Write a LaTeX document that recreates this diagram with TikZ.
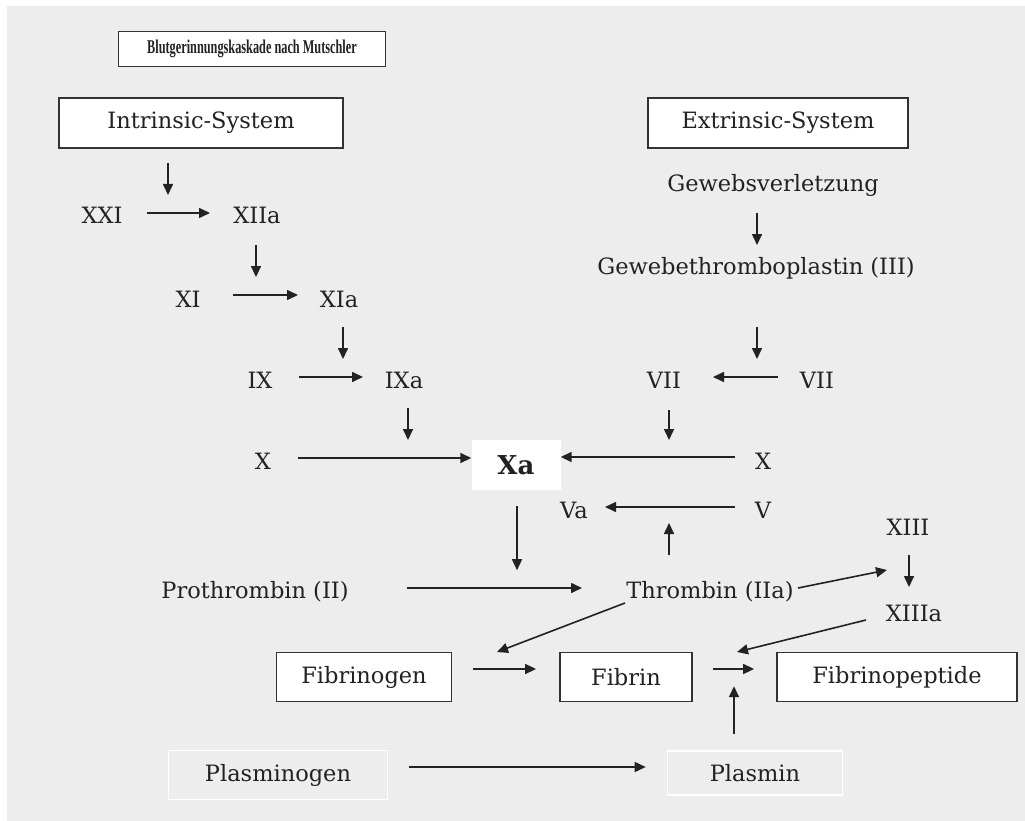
\documentclass[tikz,border=0pt]{standalone}
\usepackage{fontspec}
\setmainfont{DejaVu Serif}
\newfontfamily\titlefont{Liberation Serif}
\usetikzlibrary{arrows.meta,positioning,calc}
\definecolor{panel}{HTML}{EDEDED}
\definecolor{ink}{HTML}{222222}
\definecolor{frame}{HTML}{333333}
\tikzset{
  every node/.style={font=\fontsize{22.5}{26}\selectfont, text=ink},
  fac/.style ={inner sep=1pt},
  blk/.style ={draw=frame, fill=white, line width=1.8pt, minimum height=50pt, inner sep=0pt},
  pale/.style={draw=white, line width=1.6pt, minimum height=46pt, inner sep=0pt},
  ttl/.style ={blk, minimum width=267pt, minimum height=35pt,
               font=\titlefont\bfseries\fontsize{19.5}{22}\selectfont},
  ar/.style  ={-{Triangle[length=11pt,width=10pt]}, line width=1.6pt, draw=ink},
}

\begin{document}
\begin{tikzpicture}[x=1pt,y=1pt]

% ---------------- page ---------------------------------------------------------
\useasboundingbox (0,0) rectangle (1025,-821);
\fill[white] (0,0) rectangle (1025,-821);
\fill[panel] (7,-6) rectangle (1025,-821);

% ---------------- heading ------------------------------------------------------
\node[ttl] (title) at (252,-49) {\scalebox{0.63}[1]{Blutgerinnungskaskade nach Mutschler}};

\node[blk, minimum width=284pt] (intr) at (201,-123) {Intrinsic-System};
\node[blk, minimum width=260pt] (extr) at (778,-123) {Extrinsic-System};

% ---------------- intrinsic branch --------------------------------------------
\node[fac] (xxi)  at (102,-215) {XXI};
\node[fac] (xiia) at (257,-215) {XIIa};
\node[fac] (xi)   at (188,-299) {XI};
\node[fac] (xia)  at (339,-299) {XIa};
\node[fac] (ix)   at (260,-380) {IX};
\node[fac] (ixa)  at (404,-380) {IXa};
\node[fac] (xl)   at (263,-461) {X};

% ---------------- extrinsic branch --------------------------------------------
\node[fac] (gewv) at (773,-185) {Gewebsverletzung};
\node[fac] (gewt) at (756,-268) {Gewebethromboplastin (III)};
\node[fac] (viil) at (664,-380) {VII};
\node[fac] (viir) at (817,-380) {VII};
\node[fac] (xr)   at (763,-461) {X};

% ---------------- common path --------------------------------------------------
\node[fill=white, minimum width=89pt, minimum height=50pt, inner sep=0pt,
      font=\bfseries\fontsize{26}{29}\selectfont] (xa) at (516,-465) {Xa};
\node[fac] (va)   at (574,-510) {Va};
\node[fac] (v)    at (763,-510) {V};
\node[fac] (prot) at (255,-592) {Prothrombin (II)};
\node[fac] (thr)  at (710,-592) {Thrombin (IIa)};
\node[fac] (xiii) at (908,-527) {XIII};
\node[fac] (xiiia) at (914,-613) {XIIIa};

\node[blk, minimum width=175pt, minimum height=49pt] (fibg) at (364,-677) {Fibrinogen};
\node[blk, minimum width=132pt, minimum height=49pt] (fib)  at (626,-677) {Fibrin};
\node[blk, minimum width=240pt, minimum height=49pt] (fibp) at (897,-677) {Fibrinopeptide};

\node[pale, minimum width=219pt, minimum height=49pt] (plg) at (278,-775) {Plasminogen};
\node[pale, minimum width=175pt, minimum height=44pt] (pl)  at (755,-773) {Plasmin};

% ---------------- arrows -------------------------------------------------------
\draw[ar] ($(intr)+(-33,-40)$) -- ($(xxi)+(66,20)$);
\draw[ar] ($(xxi)+(45,2)$) -- ($(xiia)+(-47,2)$);
\draw[ar] ($(xiia)+(-1,-30)$) -- ($(xi)+(68,22)$);
\draw[ar] ($(xi)+(45,4)$) -- ($(xia)+(-41,4)$);
\draw[ar] ($(xia)+(4,-28)$) -- ($(ix)+(83,21)$);
\draw[ar] ($(ix)+(39,3)$) -- ($(ixa)+(-41,3)$);
\draw[ar] ($(ixa)+(4,-28)$) -- ($(ixa)+(4,-60)$);
\draw[ar] ($(xl)+(35,3)$) -- ($(xa.west)+(0,7)$);
\draw[ar] ($(xr)+(-28,4)$) -- ($(xa.east)+(0,8)$);

\draw[ar] ($(gewv)+(-16,-28)$) -- ($(gewt)+(1,23)$);
\draw[ar] ($(gewt)+(1,-59)$) -- ($(viil)+(93,21)$);
\draw[ar] ($(viir)+(-39,3)$) -- ($(viil)+(49,3)$);
\draw[ar] ($(viil)+(5,-30)$) -- ($(viil)+(5,-60)$);

\draw[ar] ($(v)+(-28,3)$) -- ($(va)+(31,3)$);
\draw[ar] ($(thr)+(-41,37)$) -- ($(thr)+(-41,69)$);
\draw[ar] ($(xa.south)+(1,-16)$) -- ($(xa.south)+(1,-80)$);
\draw[ar] ($(prot)+(152,4)$) -- ($(thr)+(-128,4)$);
\draw[ar] ($(thr)+(88,4)$) -- ($(xiii)+(-21,-43)$);
\draw[ar] ($(xiii)+(1,-28)$) -- ($(xiiia)+(-5,26)$);
\draw[ar] ($(xiiia)+(-48,-7)$) -- ($(fib)+(111,25)$);
\draw[ar] ($(thr)+(-85,-11)$) -- ($(fibg)+(133,25)$);

\draw[ar] ($(fibg.east)+(21,8)$) -- ($(fib.west)+(-23,8)$);
\draw[ar] ($(fib.east)+(20,8)$) -- ($(fibp.west)+(-22,8)$);
\draw[ar] ($(pl.north)+(-21,16)$) -- ($(pl.north)+(-21,64)$);
\draw[ar] ($(plg.east)+(21,8)$) -- ($(pl.west)+(-21,6)$);

\end{tikzpicture}
\end{document}
